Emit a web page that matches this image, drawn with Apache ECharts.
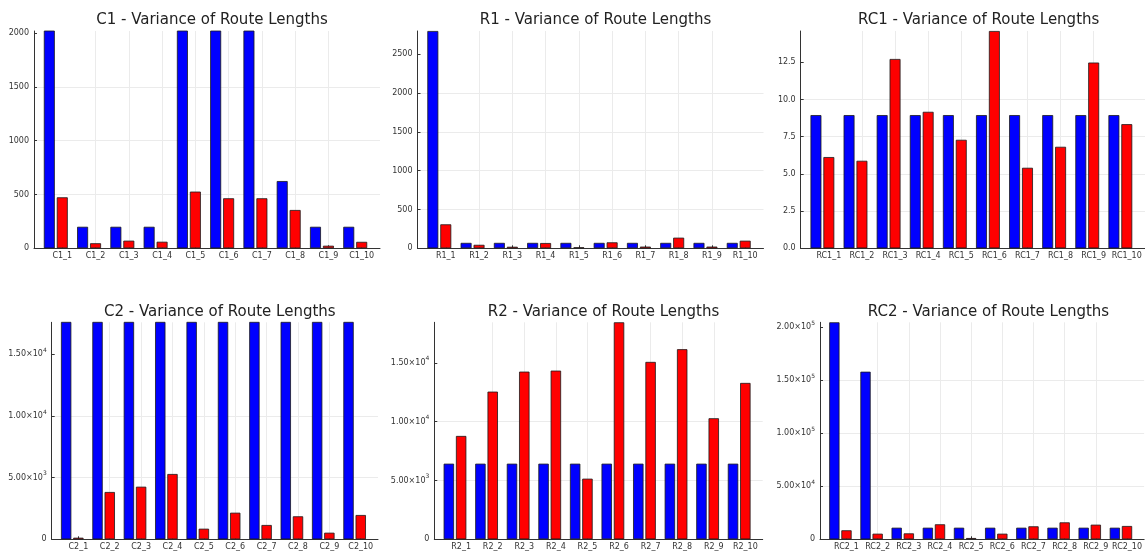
<!DOCTYPE html>
<html>
<head>
<meta charset="utf-8">
<script src="https://cdn.jsdelivr.net/npm/echarts@6/dist/echarts.min.js"></script>
<style>
  html, body { margin: 0; padding: 0; background: #ffffff; }
  #chart { width: 1145px; height: 556px; }
</style>
</head>
<body>
<div id="chart"></div>
<script>
// Instance names of each benchmark family
const catC1  = ['C1_1', 'C1_2', 'C1_3', 'C1_4', 'C1_5', 'C1_6', 'C1_7', 'C1_8', 'C1_9', 'C1_10'];
const catR1  = ['R1_1', 'R1_2', 'R1_3', 'R1_4', 'R1_5', 'R1_6', 'R1_7', 'R1_8', 'R1_9', 'R1_10'];
const catRC1 = ['RC1_1', 'RC1_2', 'RC1_3', 'RC1_4', 'RC1_5', 'RC1_6', 'RC1_7', 'RC1_8', 'RC1_9', 'RC1_10'];
const catC2  = ['C2_1', 'C2_2', 'C2_3', 'C2_4', 'C2_5', 'C2_6', 'C2_7', 'C2_8', 'C2_9', 'C2_10'];
const catR2  = ['R2_1', 'R2_2', 'R2_3', 'R2_4', 'R2_5', 'R2_6', 'R2_7', 'R2_8', 'R2_9', 'R2_10'];
const catRC2 = ['RC2_1', 'RC2_2', 'RC2_3', 'RC2_4', 'RC2_5', 'RC2_6', 'RC2_7', 'RC2_8', 'RC2_9', 'RC2_10'];

// Variance of route lengths: blue = first method, red = second method
const blueC1 = [2950, 200, 200, 200, 3120, 2870, 3340, 625, 200, 200];
const redC1  = [474, 47, 71, 61, 527, 465, 465, 356, 24, 60];

const blueR1 = [2800, 70, 70, 70, 70, 70, 70, 70, 70, 70];
const redR1  = [309, 45, 20, 68, 13, 77, 22, 137, 22, 98];

const blueRC1 = [8.95, 8.95, 8.95, 8.95, 8.95, 8.95, 8.95, 8.95, 8.95, 8.95];
const redRC1  = [6.13, 5.88, 12.72, 9.17, 7.29, 14.6, 5.41, 6.82, 12.48, 8.34];

const blueC2 = [21500, 21500, 21500, 21500, 21500, 21500, 21500, 21500, 21500, 21500];
const redC2  = [130, 3836, 4266, 5296, 860, 2157, 1160, 1865, 535, 1970];

const blueR2 = [6430, 6430, 6430, 6430, 6430, 6430, 6430, 6430, 6430, 6430];
const redR2  = [8787, 12556, 14257, 14342, 5155, 18450, 15082, 16162, 10293, 13295];

const blueRC2 = [204700, 158100, 10940, 10940, 10940, 10940, 10940, 10940, 10940, 10940];
const redRC2  = [8500, 5300, 5600, 14150, 1200, 5300, 12260, 16000, 13800, 12550];

// y-axis tick values and upper limits
const yTicksC1  = [0, 500, 1000, 1500, 2000];
const yTicksR1  = [0, 500, 1000, 1500, 2000, 2500];
const yTicksRC1 = [0, 2.5, 5, 7.5, 10, 12.5];
const yTicksC2  = [0, 5000, 10000, 15000];
const yTicksR2  = [0, 5000, 10000, 15000];
const yTicksRC2 = [0, 50000, 100000, 150000, 200000];
const yMax = { C1: 2020, R1: 2800, RC1: 14.6, C2: 17600, R2: 18450, RC2: 204700 };

const FONT = 'DejaVu Sans';

function plain(v) { return String(v); }
function oneDecimal(v) { return v.toFixed(1); }
function sci(v) {
  if (v === 0) return '0';
  const e = Math.floor(Math.log10(v) + 1e-9);
  const m = (v / Math.pow(10, e)).toFixed(2);
  return m + '×10{sup|' + e + '}';
}

const panels = [
  { key: 'C1',  cats: catC1,  blue: blueC1,  red: redC1,  ticks: yTicksC1,  fmt: plain },
  { key: 'R1',  cats: catR1,  blue: blueR1,  red: redR1,  ticks: yTicksR1,  fmt: plain },
  { key: 'RC1', cats: catRC1, blue: blueRC1, red: redRC1, ticks: yTicksRC1, fmt: oneDecimal },
  { key: 'C2',  cats: catC2,  blue: blueC2,  red: redC2,  ticks: yTicksC2,  fmt: sci },
  { key: 'R2',  cats: catR2,  blue: blueR2,  red: redR2,  ticks: yTicksR2,  fmt: sci },
  { key: 'RC2', cats: catRC2, blue: blueRC2, red: redRC2, ticks: yTicksRC2, fmt: sci }
];

// Plot frames in the 2 x 3 layout
const frames = [
  { left: 34,    top: 31,    width: 346,   height: 217.3 },
  { left: 417.5, top: 31,    width: 346,   height: 217.3 },
  { left: 800.7, top: 31,    width: 346,   height: 217.3 },
  { left: 51.7,  top: 322.3, width: 326.3, height: 217 },
  { left: 434.3, top: 322.3, width: 328.4, height: 217 },
  { left: 820,   top: 322.3, width: 327,   height: 217 }
];

const AXIS = '#333333';
const GRIDLINE = '#ebebeb';

const option = {
  animation: false,
  backgroundColor: '#ffffff',
  title: [], grid: [], xAxis: [], yAxis: [], series: []
};

panels.forEach((p, i) => {
  const f = frames[i];
  const positions = p.cats.map((c, k) => k + 1);

  option.title.push({
    text: p.key + ' - Variance of Route Lengths',
    left: f.left + f.width / 2,
    top: f.top - 23,
    textAlign: 'center',
    textStyle: { fontFamily: FONT, fontSize: 15, fontWeight: 'normal', color: '#222222' }
  });

  option.grid.push({ left: f.left, top: f.top, width: f.width, height: f.height, containLabel: false });

  option.xAxis.push({
    type: 'value',
    gridIndex: i,
    min: 0.15,
    max: 10.55,
    axisLine: { show: true, onZero: false, lineStyle: { color: AXIS, width: 1 } },
    axisTick: { show: true, inside: true, length: 3, customValues: positions, lineStyle: { color: AXIS } },
    axisLabel: {
      customValues: positions,
      formatter: v => p.cats[Math.round(v) - 1] || '',
      fontFamily: FONT, fontSize: 8, color: '#333333', margin: 4
    },
    splitLine: { show: true, showMinLine: false, showMaxLine: false, lineStyle: { color: GRIDLINE, width: 1 } }
  });

  option.yAxis.push({
    type: 'value',
    gridIndex: i,
    min: 0,
    max: yMax[p.key],
    interval: p.ticks[1],
    axisLine: { show: true, lineStyle: { color: AXIS, width: 1 } },
    axisTick: { show: true, inside: true, length: 3, customValues: p.ticks, lineStyle: { color: AXIS } },
    axisLabel: {
      customValues: p.ticks,
      formatter: p.fmt,
      fontFamily: FONT, fontSize: 8, color: '#333333', margin: 5,
      rich: { sup: { fontFamily: FONT, fontSize: 6, verticalAlign: 'top', lineHeight: 14, color: '#333333' } }
    },
    splitLine: { show: true, showMinLine: false, showMaxLine: false, lineStyle: { color: GRIDLINE, width: 1 } }
  });

  const common = { type: 'bar', xAxisIndex: i, yAxisIndex: i, barWidth: '33%', barGap: '18%', clip: true };
  option.series.push(Object.assign({}, common, {
    name: p.key + ' blue',
    data: p.blue.map((v, k) => [positions[k], v]),
    itemStyle: { color: '#0000ff', borderColor: '#1a1a1a', borderWidth: 0.8 }
  }));
  option.series.push(Object.assign({}, common, {
    name: p.key + ' red',
    data: p.red.map((v, k) => [positions[k], v]),
    itemStyle: { color: '#ff0000', borderColor: '#1a1a1a', borderWidth: 0.8 }
  }));
  // empty slot to the right of each pair, so the red bar sits on the tick
  option.series.push(Object.assign({}, common, {
    name: p.key + ' slot',
    data: [],
    silent: true
  }));
});

const chart = echarts.init(document.getElementById('chart'), null, { renderer: 'canvas' });
chart.setOption(option);
</script>
</body>
</html>
